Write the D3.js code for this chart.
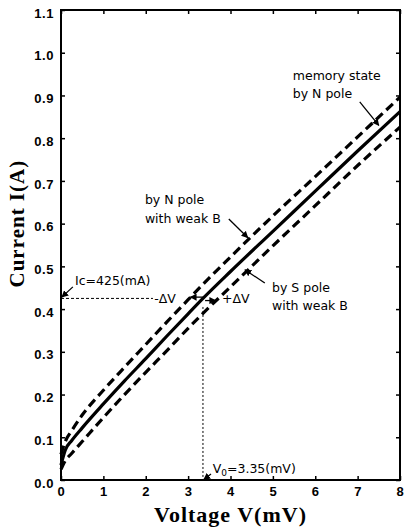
<!DOCTYPE html>
<html><head><meta charset="utf-8">
<script src="https://cdn.jsdelivr.net/npm/d3@7/dist/d3.min.js"></script>
<style>
html,body{margin:0;padding:0;background:#fff;}
svg{display:block;}
</style></head>
<body>
<svg id="chart" width="404" height="530"></svg>
<script>
// ---- data ----
const voltage = [0, 0.1, 0.25, 0.5, 1, 1.5, 2, 2.5, 3, 3.35, 4, 5, 6, 7, 8];
const currentMemory = [0.035, 0.07, 0.092, 0.122, 0.178, 0.232, 0.284, 0.337, 0.389, 0.425, 0.488, 0.582, 0.676, 0.77, 0.862];
const currentNWeak  = [0.06, 0.09, 0.115, 0.152, 0.21, 0.264, 0.317, 0.37, 0.422, 0.458, 0.522, 0.618, 0.71, 0.803, 0.896];
const currentSWeak  = [0.025, 0.045, 0.062, 0.09, 0.146, 0.2, 0.252, 0.303, 0.355, 0.39, 0.452, 0.548, 0.642, 0.736, 0.826];
const xTicks = [0, 1, 2, 3, 4, 5, 6, 7, 8];
const yTicks = [0, 0.1, 0.2, 0.3, 0.4, 0.5, 0.6, 0.7, 0.8, 0.9, 1.0, 1.1];
const Ic = 0.425;   // A
const V0 = 3.35;    // mV

const svg = d3.select("#chart");
const x = d3.scaleLinear().domain([0, 8]).range([61, 400]);
const y = d3.scaleLinear().domain([0, 1.1]).range([480, 10]);

const tickFont = "'Liberation Sans', Arial, sans-serif";
const annFont = "'DejaVu Sans', sans-serif";
const titleFont = "'Liberation Serif', 'Times New Roman', serif";

// axes
const gL = svg.append("g").attr("transform", `translate(${x(0)},0)`)
  .call(d3.axisLeft(y).tickValues(yTicks).tickSize(-4).tickPadding(7).tickFormat(d3.format(".1f")));
const gB = svg.append("g").attr("transform", `translate(0,${y(0)})`)
  .call(d3.axisBottom(x).tickValues(xTicks).tickSize(-4).tickPadding(7).tickFormat(d3.format("d")));
const gT = svg.append("g").attr("transform", `translate(0,${y(1.1)})`)
  .call(d3.axisTop(x).tickValues(xTicks).tickSize(-4).tickFormat(""));
const gR = svg.append("g").attr("transform", `translate(${x(8)},0)`)
  .call(d3.axisRight(y).tickValues(yTicks).tickSize(-4).tickFormat(""));
[gL, gB, gT, gR].forEach(g => {
  g.select(".domain").remove();
  g.selectAll(".tick line").attr("stroke", "#000").attr("stroke-width", 1.5);
  g.selectAll("text").attr("fill", "#000").style("font-family", tickFont)
    .style("font-weight", "bold").style("font-size", "13px").style("letter-spacing", "0.6px");
});
gL.selectAll("text").attr("dy", "0.55em");

// frame
svg.append("rect").attr("x", x(0)).attr("y", y(1.1))
  .attr("width", x(8) - x(0)).attr("height", y(0) - y(1.1))
  .attr("fill", "none").attr("stroke", "#000").attr("stroke-width", 2);

// titles
svg.append("text").attr("x", (x(0) + x(8)) / 2).attr("y", 522)
  .attr("text-anchor", "middle").style("font-family", titleFont).style("font-weight", "bold")
  .style("font-size", "22px").style("letter-spacing", "1px").text("Voltage V(mV)");
svg.append("text").attr("transform", `translate(24,${y(0.6)}) rotate(-90)`)
  .attr("text-anchor", "middle").style("font-family", titleFont).style("font-weight", "bold")
  .style("font-size", "21px").style("letter-spacing", "1px").text("Current I(A)");

// curves
const line = d3.line().x(d => x(d[0])).y(d => y(d[1])).curve(d3.curveMonotoneX);
const series = [
  {vals: currentNWeak, dash: "9,5"},
  {vals: currentSWeak, dash: "9,5"},
  {vals: currentMemory, dash: null}
];
series.forEach(s => {
  svg.append("path").datum(voltage.map((v, i) => [v, s.vals[i]]))
    .attr("d", line).attr("fill", "none").attr("stroke", "#000")
    .attr("stroke-width", 3.2).attr("stroke-dasharray", s.dash);
});

// markers
const defs = svg.append("defs");
defs.append("marker").attr("id", "ah").attr("viewBox", "0 0 10 10")
  .attr("refX", 9).attr("refY", 5).attr("markerWidth", 7).attr("markerHeight", 7)
  .attr("markerUnits", "userSpaceOnUse").attr("orient", "auto")
  .append("path").attr("d", "M0,0 L10,5 L0,10 z").attr("fill", "#000");

// Ic / V0 guide lines
svg.append("line").attr("x1", x(0)).attr("x2", x(2.17)).attr("y1", y(Ic)).attr("y2", y(Ic))
  .attr("stroke", "#000").attr("stroke-width", 1).attr("stroke-dasharray", "3,2");
svg.append("line").attr("x1", x(V0)).attr("x2", x(V0)).attr("y1", y(0.405)).attr("y2", y(0))
  .attr("stroke", "#000").attr("stroke-width", 1).attr("stroke-dasharray", "2,2");

// arrows (data units)
const arrows = [
  [[7.05, 0.885], [7.5, 0.83]],
  [[3.96, 0.611], [4.41, 0.567]],
  [[4.81, 0.461], [4.34, 0.492]],
  [[0.28, 0.452], [0.02, 0.428]],
  [[3.35, 0.428], [3.05, 0.428]],
  [[3.4, 0.42], [3.65, 0.42]],
  [[3.54, 0.014], [3.37, 0.001]]
];
arrows.forEach(a => {
  svg.append("line").attr("x1", x(a[0][0])).attr("y1", y(a[0][1]))
    .attr("x2", x(a[1][0])).attr("y2", y(a[1][1]))
    .attr("stroke", "#000").attr("stroke-width", 1.3).attr("marker-end", "url(#ah)");
});

// labels (data units)
const labels = [
  {t: "memory state", v: 5.47, i: 0.936},
  {t: "by N pole", v: 5.47, i: 0.893},
  {t: "by N pole", v: 1.98, i: 0.646},
  {t: "with weak B", v: 1.98, i: 0.602},
  {t: "by S pole", v: 4.98, i: 0.439},
  {t: "with weak B", v: 4.98, i: 0.399},
  {t: "Ic=425(mA)", v: 0.33, i: 0.456},
  {t: "-\u0394V", v: 2.2, i: 0.414},
  {t: "+\u0394V", v: 3.8, i: 0.414}
];
labels.forEach(l => {
  svg.append("text").attr("x", x(l.v)).attr("y", y(l.i))
    .style("font-family", annFont).style("font-size", "12.5px").text(l.t);
});
const v0t = svg.append("text").attr("x", x(3.58)).attr("y", y(0.016))
  .style("font-family", annFont).style("font-size", "12.5px");
v0t.append("tspan").text("V");
v0t.append("tspan").attr("dy", 3).style("font-size", "9px").text("0");
v0t.append("tspan").attr("dy", -3).text("=3.35(mV)");
</script>
</body></html>
